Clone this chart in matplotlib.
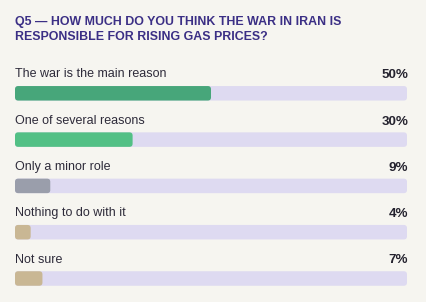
import matplotlib.pyplot as plt
from matplotlib.patches import FancyBboxPatch

title = "Q5 — HOW MUCH DO YOU THINK THE WAR IN IRAN IS\nRESPONSIBLE FOR RISING GAS PRICES?"
answers = ["The war is the main reason", "One of several reasons", "Only a minor role",
           "Nothing to do with it", "Not sure"]
shares = [50, 30, 9, 4, 7]
bar_colors = ["#47a67a", "#52c085", "#9a9eab", "#c9b794", "#c9b794"]

bg = "#f6f5f0"
track = "#dedaf1"

W, H = 427, 302
fig = plt.figure(figsize=(W / 100, H / 100), dpi=100, facecolor=bg)
plt.rcParams["font.family"] = ["Liberation Sans", "DejaVu Sans"]

left, right = 15, 407
ax = fig.add_axes([left / W, 0, (right - left) / W, 1])
ax.set_facecolor(bg)
ax.set_xlim(0, 100)
first, step = 93.3, 46.3
ax.set_ylim((H - first) / step, -first / step)
ax.axis("off")

px_x = (right - left) / 100
px_y = step
radius = 3.2 / px_x
bar_h = 14.5 / step

for i, (lab, val, c) in enumerate(zip(answers, shares, bar_colors)):
    for w, col in [(100, track), (val, c)]:
        ax.add_patch(FancyBboxPatch((0, i - bar_h / 2), w, bar_h,
                                    boxstyle=f"round,pad=0,rounding_size={radius}",
                                    mutation_aspect=px_x / px_y,
                                    fc=col, ec="none"))
    ax.text(0, i - 0.41, lab, ha="left", va="center", fontsize=9.0, color="#2e2b3a")
    ax.text(100.3, i - 0.39, f"{val}%", ha="right", va="center", fontsize=9.6,
            fontweight="bold", color="#24222e")

fig.text(left / W, 1 - 29.5 / H, title, ha="left", va="center", fontsize=8.9,
         fontweight="bold", color="#3b2f85", linespacing=1.25)

fig.savefig("out.png", dpi=100, facecolor=bg)
